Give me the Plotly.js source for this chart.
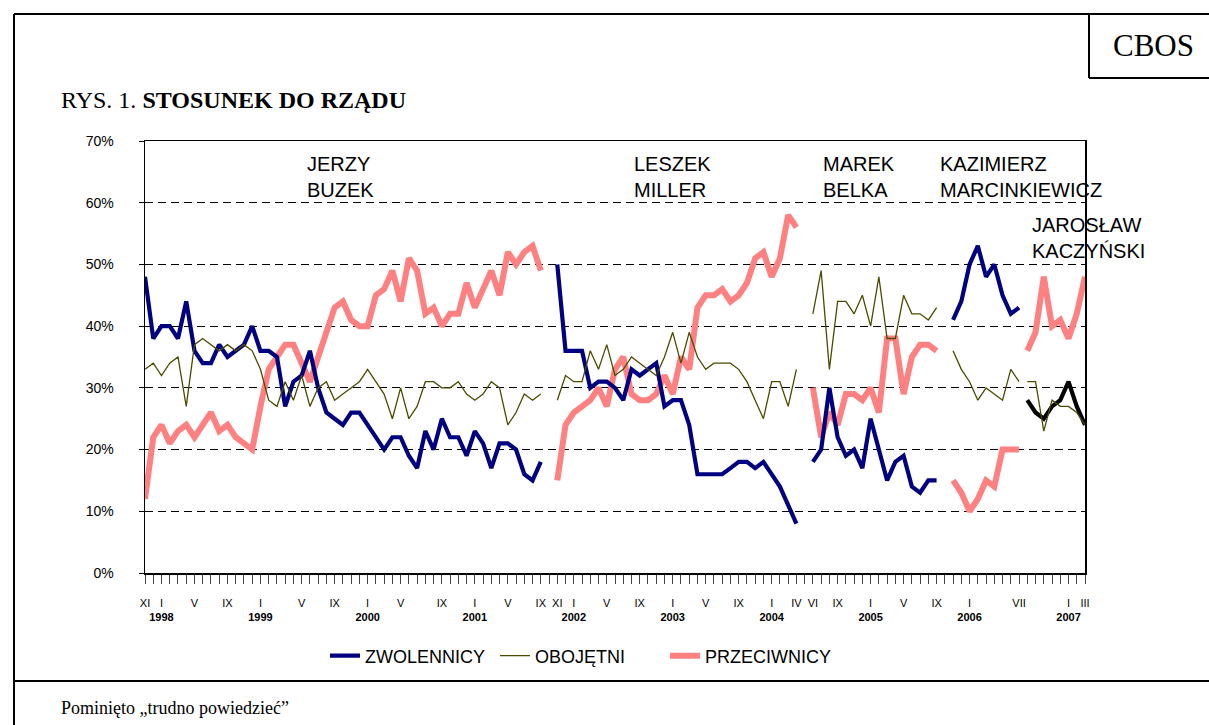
<!DOCTYPE html>
<html>
<head>
<meta charset="utf-8">
<script src="https://cdn.plot.ly/plotly-3.0.1.min.js"></script>
<style>
html,body{margin:0;padding:0;background:#fff;}
#chart{width:1209px;height:725px;}
</style>
</head>
<body>
<div id="chart"></div>
<script>
// ---- DATA ----
// category index 0 = XI 1997 ... 114 = III 2007 (one per survey)
const tickPos   = [0,2,6,10,14,19,23,27,31,36,40,44,48,50,52,56,60,64,68,72,76,79,81,84,88,92,96,100,106,112,114];
const tickMonth = ['XI','I','V','IX','I','V','IX','I','V','IX','I','V','IX','XI','I','V','IX','I','V','IX','I','IV','VI','IX','I','V','IX','I','VII','I','III'];
const tickYear  = ['','1998','','','1999','','','2000','','','2001','','','','2002','','','2003','','','2004','','','','2005','','','2006','','2007',''];

const zwolennicy = [48,38,40,40,38,44,36,34,34,37,35,36,37,40,36,36,35,27,31,32,36,30,26,25,24,26,26,24,22,20,22,22,19,17,23,20,25,22,22,19,23,21,17,21,21,20,16,15,18,
  null,
  50,36,36,36,30,31,31,30,28,33,32,33,34,27,28,28,24,16,16,16,16,17,18,18,17,18,16,14,11,8,
  null,
  18,20,30,22,19,20,17,25,20,15,18,19,14,13,15,15,
  null,
  41,44,50,53,48,50,45,42,43,
  28,26,25,27,28,31,27,24];

const obojetni = [33,34,32,34,35,27,37,38,37,36,37,36,37,36,33,28,27,31,28,32,27,30,31,28,29,30,31,33,31,29,25,30,25,27,31,31,30,30,31,29,28,29,31,30,24,26,29,28,29,
  null,
  28,32,31,31,36,33,37,32,33,35,34,33,32,35,39,34,39,35,33,34,34,34,33,31,28,25,31,31,27,33,
  null,
  42,49,33,44,44,42,45,40,48,38,38,45,42,42,41,43,
  null,
  36,33,31,28,30,29,28,33,31,
  31,31,23,28,27,27,26,24];

const przeciwnicy = [12,22,24,21,23,24,22,24,26,23,24,22,21,20,27,33,35,37,37,34,31,35,39,43,44,41,40,40,45,46,49,44,51,49,42,43,40,42,42,47,43,46,49,45,52,50,52,53,49,
  null,
  15,24,26,27,28,30,27,33,35,29,28,28,29,32,29,35,33,43,45,45,46,44,45,47,51,52,48,51,58,56,
  null,
  30,22,26,24,29,29,28,30,26,38,38,29,35,37,37,36,
  null,
  15,13,10,12,15,14,20,20,20,
  36,39,48,40,41,38,42,48];

const premiers   = ['JERZY<br>BUZEK','LESZEK<br>MILLER','MAREK<br>BELKA','KAZIMIERZ<br>MARCINKIEWICZ','JAROSŁAW<br>KACZYŃSKI'];
const segStart   = [0,50,81,98,107];
const segEnd     = [48,79,96,106,114];

// ---- LAYOUT HELPERS ----
const W = 1209, H = 725;
const PL = 145, PR = 1085, PT = 141, PB = 573;
const px2x = p => (p - PL) / (PR - PL);
const px2y = p => (PB - p) / (PB - PT);

const nCat = zwolennicy.length;
const allTicks = [], allText = [];
for (let i = 0; i < nCat; i++) {
  allTicks.push(i);
  const k = tickPos.indexOf(i);
  if (k < 0) allText.push(' ');
  else allText.push(tickYear[k] ? tickMonth[k] + '<br><b>' + tickYear[k] + '</b>' : tickMonth[k]);
}

const series = [
  {name:'PRZECIWNICY', data:przeciwnicy, color:'#FF8080', width:6, rank:3},
  {name:'ZWOLENNICY',  data:zwolennicy,  color:'#000080', width:4.2, rank:1},
  {name:'OBOJĘTNI',    data:obojetni,    color:'#4B4B00', width:1.3, rank:2}
];

const traces = [];
series.forEach(s => {
  segStart.forEach((st, g) => {
    const xs = [], ys = [];
    for (let i = st; i <= segEnd[g]; i++) { xs.push(i); ys.push(s.data[i]); }
    let col = s.color;
    if (s.name === 'ZWOLENNICY' && g === 4) col = '#000000';
    traces.push({
      type:'scatter', mode:'lines', x:xs, y:ys, name:s.name,
      legendgroup:s.name, showlegend: g === 0, legendrank:s.rank,
      line:{color:col, width:s.width, shape:'linear'},
      hoverinfo:'skip'
    });
  });
});

const premierPos = [[305,151],[632,151],[821,151],[938,151],[1030,212]];
const annotations = premiers.map((t, k) => ({
  text:t, xref:'paper', yref:'paper', x:px2x(premierPos[k][0]), y:px2y(premierPos[k][1]),
  xanchor:'left', yanchor:'top', align:'left', showarrow:false,
  font:{family:'Liberation Sans, Arial, sans-serif', size:20, color:'#000'}
}));
annotations.push({
  text:'RYS. 1. <b>STOSUNEK DO RZĄDU</b>', xref:'paper', yref:'paper',
  x:px2x(59), y:px2y(100), xanchor:'left', yanchor:'middle', showarrow:false,
  font:{family:'Liberation Serif, Times New Roman, serif', size:24, color:'#000'}
});
annotations.push({
  text:'CBOS', xref:'paper', yref:'paper',
  x:px2x(1153), y:px2y(46), xanchor:'center', yanchor:'middle', showarrow:false,
  font:{family:'Liberation Serif, Times New Roman, serif', size:31, color:'#000'}
});
annotations.push({
  text:'Pominięto „trudno powiedzieć”', xref:'paper', yref:'paper',
  x:px2x(59), y:px2y(708), xanchor:'left', yanchor:'middle', showarrow:false,
  font:{family:'Liberation Serif, Times New Roman, serif', size:18, color:'#000'}
});

const ln = (x0,y0,x1,y1,w) => ({type:'line', xref:'paper', yref:'paper',
  x0:px2x(x0), y0:px2y(y0), x1:px2x(x1), y1:px2y(y1), line:{color:'#000', width:w||2}});
const shapes = [
  ln(14,14,1209,14), ln(14,14,14,725), ln(14,681,1209,681),
  ln(1089,14,1089,78), ln(1089,78,1209,78)
];

const layout = {
  width:W, height:H,
  margin:{l:PL, r:W-PR, t:PT, b:H-PB, pad:0},
  paper_bgcolor:'#fff', plot_bgcolor:'#fff',
  font:{family:'Liberation Sans, Arial, sans-serif', color:'#000'},
  showlegend:true,
  legend:{orientation:'h', x:px2x(325), y:px2y(656), xanchor:'left', yanchor:'middle',
    font:{family:'Liberation Sans, Arial, sans-serif', size:18, color:'#000'},
    bgcolor:'rgba(0,0,0,0)', itemwidth:30, traceorder:'normal',
    entrywidth:125, entrywidthmode:'pixels'},
  xaxis:{range:[0,nCat-1], tickmode:'array', tickvals:allTicks, ticktext:allText, tickangle:0,
    ticks:'outside', ticklen:9, tickwidth:1, tickcolor:'#444', ticklabelstandoff:10,
    tickfont:{family:'Liberation Sans, Arial, sans-serif', size:11, color:'#000'},
    showgrid:false, zeroline:false, showline:true, linecolor:'#000', linewidth:1.5, mirror:true,
    fixedrange:true},
  yaxis:{range:[0,70], tickmode:'linear', tick0:0, dtick:10, ticksuffix:'%',
    ticks:'outside', ticklen:5, tickcolor:'#000', ticklabelstandoff:22,
    tickfont:{family:'Liberation Sans, Arial, sans-serif', size:14, color:'#000'},
    showgrid:true, gridcolor:'#000', gridwidth:1, griddash:'8px,5px',
    zeroline:false, showline:true, linecolor:'#000', linewidth:1.5, mirror:true,
    fixedrange:true},
  annotations:annotations,
  shapes:shapes
};

Plotly.newPlot('chart', traces, layout, {staticPlot:true, displayModeBar:false});
</script>
</body>
</html>
